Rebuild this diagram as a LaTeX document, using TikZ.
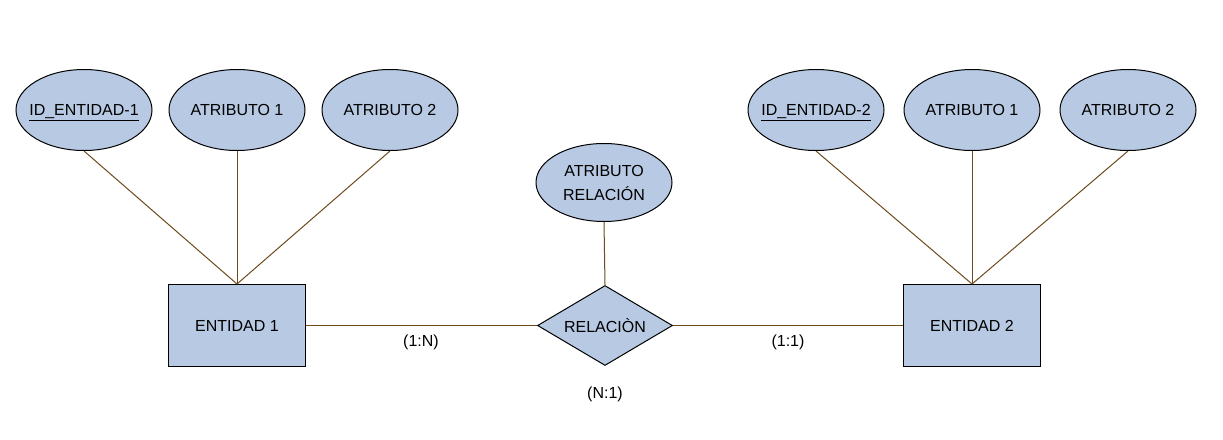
\documentclass[tikz,border=0pt]{standalone}
\usepackage{fontspec}
\setmainfont{Liberation Sans}
\usetikzlibrary{shapes.geometric}
\definecolor{fillblue}{HTML}{B8CAE3}
\definecolor{linkbrown}{HTML}{6E4A1C}
\newcommand{\keytext}[1]{\makebox[0pt]{\raisebox{0pt}[\height][0pt]{\underline{#1}}}}
\begin{document}
\begin{tikzpicture}[x=1pt,y=-1pt,
  every node/.style={font=\fontsize{16}{19}\selectfont, text=black},
  attr/.style={ellipse, draw=black, line width=1pt, fill=fillblue, minimum width=136pt, minimum height=81pt, inner sep=0pt, align=center},
  entbox/.style={rectangle, draw=black, line width=1pt, fill=fillblue, minimum width=137pt, minimum height=82pt, inner sep=0pt},
  relbox/.style={diamond, draw=black, line width=1pt, fill=fillblue, shape aspect=1.68, minimum width=135pt, minimum height=80pt, inner sep=0pt},
  link/.style={draw=linkbrown, line width=1pt},
  card/.style={inner sep=0pt}
]
\useasboundingbox (0,0) rectangle (1223,439);
\fill[white] (0,0) rectangle (1223,439);

\node[entbox] (ent1) at (237,325.5) {ENTIDAD 1};
\node[entbox] (ent2) at (972,325.5) {ENTIDAD 2};
\node[relbox] (rel) at (605,325.5) {RELACIÒN};

\node[attr] (id1) at (84,110) {\keytext{ID\_ENTIDAD-1}};
\node[attr] (a11) at (237,110) {ATRIBUTO 1};
\node[attr] (a12) at (390,110) {ATRIBUTO 2};
\node[attr] (id2) at (816,110) {\keytext{ID\_ENTIDAD-2}};
\node[attr] (a21) at (972,110) {ATRIBUTO 1};
\node[attr] (a22) at (1128,110) {ATRIBUTO 2};
\node[attr, minimum height=78pt, font=\fontsize{16}{24}\selectfont] (ar) at (604,182.5) {ATRIBUTO\\RELACIÓN};

\draw[link] (id1.south) -- (ent1.north);
\draw[link] (a11.south) -- (ent1.north);
\draw[link] (a12.south) -- (ent1.north);
\draw[link] (id2.south) -- (ent2.north);
\draw[link] (a21.south) -- (ent2.north);
\draw[link] (a22.south) -- (ent2.north);
\draw[link] (ar.south) -- (rel.north);
\draw[link] (ent1.east) -- (rel.west);
\draw[link] (rel.east) -- (ent2.west);

\node[card] (c1) at (421,342) {(1:N)};
\node[card] (c2) at (788,342) {(1:1)};
\node[card] (c3) at (605,394) {(N:1)};
\end{tikzpicture}
\end{document}
